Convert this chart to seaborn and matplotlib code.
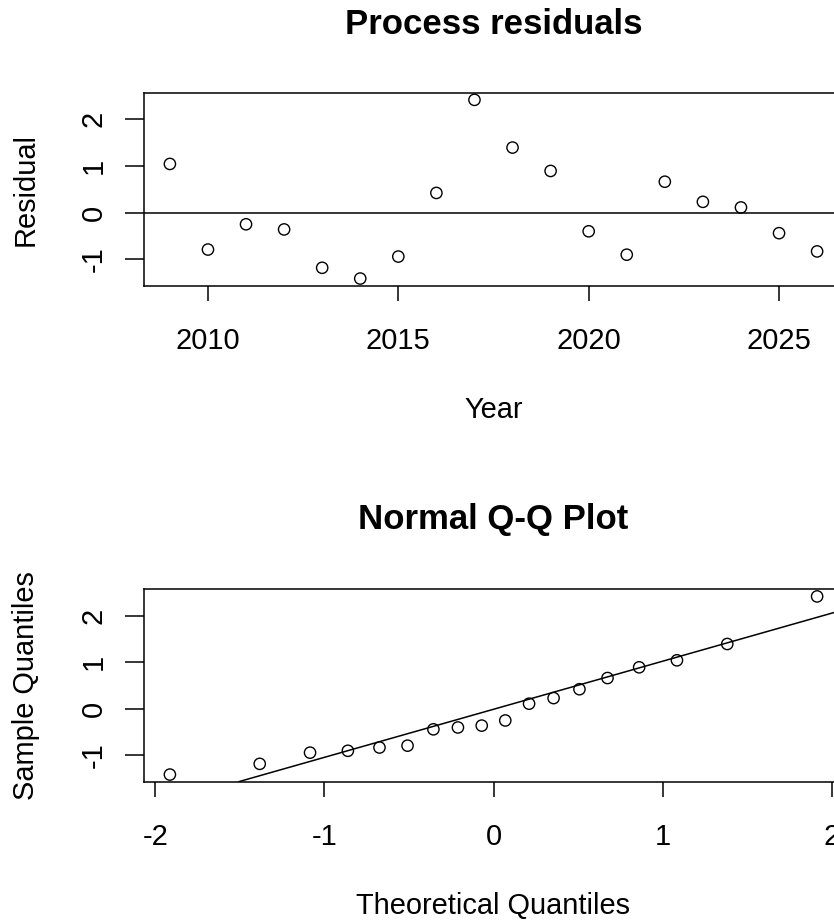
import numpy as np
import pandas as pd
import matplotlib
matplotlib.use("Agg")
import matplotlib.pyplot as plt
import seaborn as sns
from statistics import NormalDist

# ---- data ----
years = [2009, 2010, 2011, 2012, 2013, 2014, 2015, 2016, 2017,
         2018, 2019, 2020, 2021, 2022, 2023, 2024, 2025, 2026]
residuals = [1.04, -0.79, -0.25, -0.36, -1.18, -1.41, -0.94, 0.42, 2.41,
             1.39, 0.89, -0.40, -0.90, 0.66, 0.23, 0.11, -0.44, -0.83]
top_xticks = [2010, 2015, 2020, 2025]
yticks = [-1, 0, 1, 2]
qq_xticks = [-2, -1, 0, 1, 2]
# reference line of the Q-Q panel
qqline_intercept = -0.01
qqline_slope = 1.03

title_top = "Process residuals"
title_qq = "Normal Q-Q Plot"
xlabel_top = "Year"
ylabel_top = "Residual"
xlabel_qq = "Theoretical Quantiles"
ylabel_qq = "Sample Quantiles"

# ---- Q-Q transform (as R's qqnorm) ----
n = len(residuals)
ppts = [(i - 0.5) / n for i in range(1, n + 1)]
theo = [NormalDist().inv_cdf(p) for p in ppts]
sample = sorted(residuals)

df_top = pd.DataFrame({"Year": years, "Residual": residuals})
df_qq = pd.DataFrame({"Theoretical": theo, "Sample": sample})

# ---- style ----
sns.set_style("ticks")
plt.rcParams["font.family"] = ["Liberation Sans", "DejaVu Sans"]
plt.rcParams["text.color"] = "black"

W, H = 834, 924
PT = 0.72  # px -> pt at dpi 100
fs = 29 * PT
fs_title = 29 * 1.2 * PT
lw = 1.1

fig = plt.figure(figsize=(W / 100, H / 100), dpi=100)


def fx(px):
    return px / W


def fy(py):
    return 1 - py / H


left, right = 144, 843


def rlim(vals):
    lo, hi = min(vals), max(vals)
    r = hi - lo
    return lo - 0.04 * r, hi + 0.04 * r


def style_axis(ax):
    for s in ax.spines.values():
        s.set_visible(True)
        s.set_color("black")
        s.set_linewidth(lw)
    ax.tick_params(axis="x", direction="out", length=15 * PT, width=lw,
                   labelsize=fs, pad=18.6, colors="black")
    ax.tick_params(axis="y", direction="out", length=19 * PT, width=lw,
                   labelsize=fs, pad=12.5, colors="black")
    for lab in ax.get_yticklabels():
        lab.set_rotation(90)
        lab.set_va("center")
        lab.set_ha("right")
    ax.set_xlabel("")
    ax.set_ylabel("")
    ax.grid(False)
    ax.set_facecolor("white")


# ---- top panel ----
ax1 = fig.add_axes([fx(left), fy(285.7), fx(right) - fx(left), (285.7 - 92.7) / H])
sns.scatterplot(data=df_top, x="Year", y="Residual", ax=ax1, s=66,
                facecolor="none", edgecolor="black", linewidth=1.0,
                legend=False, zorder=3)
ax1.axhline(0, color="black", lw=lw, zorder=2)
ax1.set_xlim(*rlim(years))
ax1.set_ylim(*rlim(residuals))
ax1.set_xticks(top_xticks)
ax1.set_xticklabels([str(t) for t in top_xticks])
ax1.set_yticks(yticks)
ax1.set_yticklabels([str(t) for t in yticks])
style_axis(ax1)

# ---- Q-Q panel ----
ax2 = fig.add_axes([fx(left), fy(781.7), fx(right) - fx(left), (781.7 - 589.3) / H])
sns.scatterplot(data=df_qq, x="Theoretical", y="Sample", ax=ax2, s=66,
                facecolor="none", edgecolor="black", linewidth=1.0,
                legend=False, zorder=3)
ax2.axline((0, qqline_intercept), slope=qqline_slope, color="black", lw=lw, zorder=2)
ax2.set_xlim(*rlim(theo))
ax2.set_ylim(*rlim(sample))
ax2.set_xticks(qq_xticks)
ax2.set_xticklabels([str(t) for t in qq_xticks])
ax2.set_yticks(yticks)
ax2.set_yticklabels([str(t) for t in yticks])
style_axis(ax2)

# ---- titles and axis labels ----
cx = (left + right) / 2
fig.text(fx(cx), fy(34.3), title_top, ha="center", va="baseline",
         fontsize=fs_title, fontweight="bold")
fig.text(fx(cx), fy(529.3), title_qq, ha="center", va="baseline",
         fontsize=fs_title, fontweight="bold")
fig.text(fx(cx), fy(417.7), xlabel_top, ha="center", va="baseline", fontsize=fs)
fig.text(fx(cx), fy(914), xlabel_qq, ha="center", va="baseline", fontsize=fs)
fig.text(fx(34), fy((92.7 + 285.7) / 2), ylabel_top, ha="center", va="baseline",
         rotation=90, rotation_mode="anchor", fontsize=fs)
fig.text(fx(34), fy((589.3 + 781.7) / 2), ylabel_qq, ha="center", va="baseline",
         rotation=90, rotation_mode="anchor", fontsize=fs)

fig.savefig("out.png", dpi=100, facecolor="white")
